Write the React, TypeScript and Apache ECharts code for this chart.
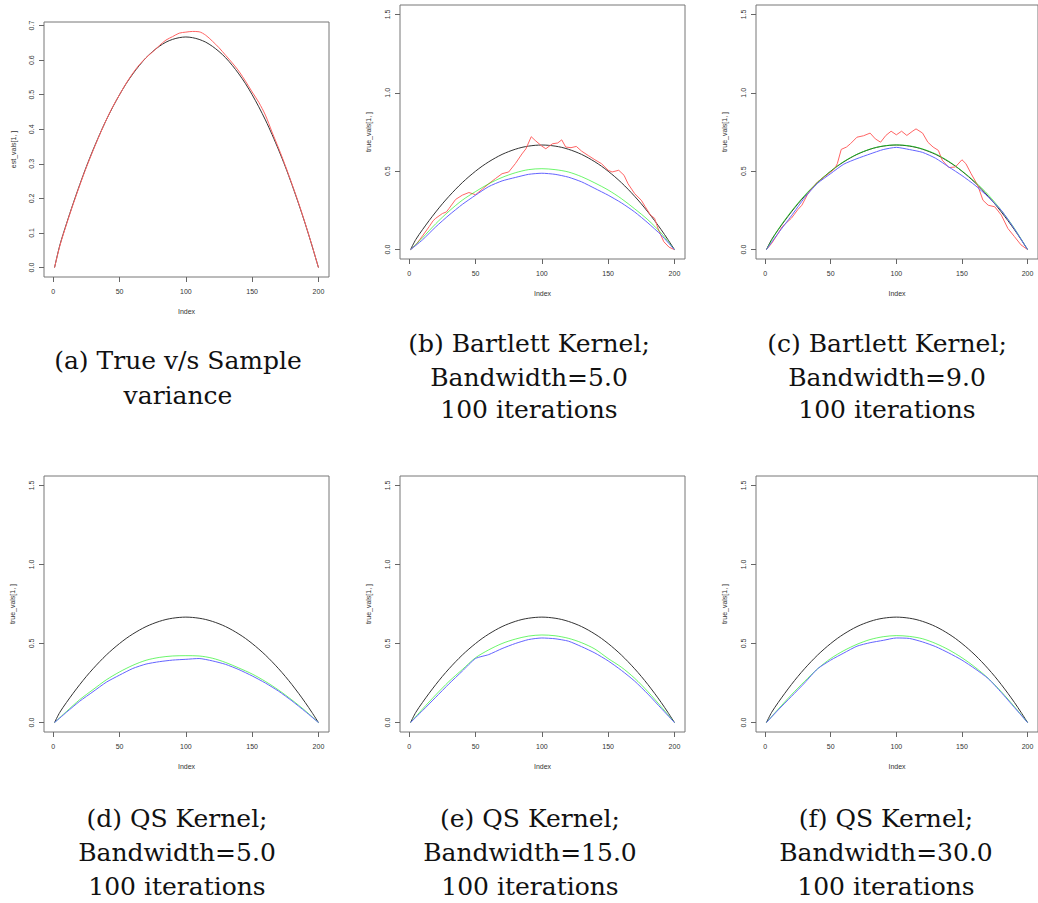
import React, { useEffect, useRef } from "react";
import * as echarts from "echarts";

// ---------- data ----------
const X5 = [1, 5, 10, 15, 20, 25, 30, 35, 40, 45, 50, 55, 60, 65, 70, 75, 80, 85, 90, 95, 100,
  105, 110, 115, 120, 125, 130, 135, 140, 145, 150, 155, 160, 165, 170, 175, 180, 185, 190, 195, 200];
const X10 = [1, 10, 20, 30, 40, 50, 60, 70, 80, 90, 100, 110, 120, 130, 140, 150, 160, 170, 180, 190, 200];

const TRUE_VAR = [0.0, 0.065, 0.127, 0.185, 0.24, 0.292, 0.34, 0.385, 0.427, 0.465, 0.5, 0.532, 0.56, 0.585,
  0.607, 0.625, 0.64, 0.652, 0.66, 0.665, 0.667, 0.665, 0.66, 0.652, 0.64, 0.625, 0.607, 0.585, 0.56, 0.532,
  0.5, 0.465, 0.427, 0.385, 0.34, 0.292, 0.24, 0.185, 0.127, 0.065, 0.0];

const A_SAMPLE = [0.0, 0.063, 0.125, 0.183, 0.238, 0.29, 0.338, 0.384, 0.427, 0.466, 0.5, 0.533, 0.562, 0.587,
  0.607, 0.624, 0.642, 0.658, 0.668, 0.678, 0.681, 0.683, 0.682, 0.672, 0.655, 0.636, 0.614, 0.592, 0.568,
  0.539, 0.508, 0.478, 0.441, 0.392, 0.345, 0.295, 0.242, 0.187, 0.128, 0.066, 0.0];

const B_RED_X = [1, 5, 10, 15, 18, 20, 25, 28, 30, 35, 40, 45, 50, 55, 60, 65, 70, 75, 80, 85, 88, 92, 95, 100,
  103, 108, 112, 115, 118, 122, 126, 130, 135, 140, 145, 150, 153, 158, 162, 165, 170, 175, 178, 182, 185,
  188, 192, 196, 200];
const B_RED_Y = [0, 0.03, 0.087, 0.146, 0.184, 0.2, 0.23, 0.24, 0.262, 0.32, 0.347, 0.364, 0.35, 0.385, 0.42,
  0.453, 0.484, 0.495, 0.548, 0.61, 0.643, 0.72, 0.696, 0.66, 0.643, 0.675, 0.68, 0.7, 0.654, 0.65, 0.658,
  0.628, 0.6, 0.573, 0.548, 0.506, 0.495, 0.506, 0.474, 0.42, 0.357, 0.315, 0.273, 0.22, 0.2, 0.125, 0.05,
  0.015, 0];
const B_GREEN = [0, 0.075, 0.165, 0.245, 0.315, 0.37, 0.42, 0.46, 0.49, 0.51, 0.516, 0.51, 0.495, 0.465, 0.425,
  0.38, 0.325, 0.26, 0.19, 0.105, 0];
const B_BLUE = [0, 0.062, 0.145, 0.22, 0.288, 0.347, 0.402, 0.438, 0.46, 0.48, 0.487, 0.48, 0.462, 0.432, 0.39,
  0.347, 0.298, 0.24, 0.17, 0.093, 0];

const C_RED_X = [1, 5, 10, 13, 20, 25, 28, 32, 35, 40, 45, 50, 53, 55, 58, 62, 65, 70, 75, 80, 84, 88, 92, 96,
  100, 104, 108, 112, 115, 120, 124, 128, 132, 135, 140, 145, 150, 153, 157, 162, 166, 170, 175, 180, 185,
  190, 195, 200];
const C_RED_Y = [0, 0.04, 0.104, 0.146, 0.2, 0.256, 0.283, 0.347, 0.385, 0.432, 0.463, 0.495, 0.516, 0.548,
  0.639, 0.654, 0.675, 0.717, 0.726, 0.743, 0.706, 0.685, 0.728, 0.755, 0.732, 0.755, 0.728, 0.753, 0.77,
  0.743, 0.685, 0.654, 0.633, 0.57, 0.523, 0.527, 0.573, 0.548, 0.484, 0.41, 0.315, 0.283, 0.273, 0.22, 0.135,
  0.083, 0.03, 0];
const C_GREEN = [0, 0.13, 0.245, 0.345, 0.43, 0.5, 0.562, 0.608, 0.641, 0.661, 0.668, 0.662, 0.642, 0.61, 0.563,
  0.502, 0.432, 0.35, 0.25, 0.135, 0];
const C_BLUE = [0, 0.105, 0.215, 0.33, 0.423, 0.485, 0.545, 0.58, 0.61, 0.638, 0.652, 0.638, 0.62, 0.582, 0.527,
  0.472, 0.41, 0.336, 0.25, 0.132, 0];

const D_GREEN = [0, 0.07, 0.145, 0.208, 0.27, 0.32, 0.362, 0.394, 0.412, 0.421, 0.423, 0.421, 0.407, 0.38, 0.345,
  0.307, 0.26, 0.205, 0.143, 0.075, 0];
const D_BLUE = [0, 0.065, 0.135, 0.195, 0.255, 0.3, 0.342, 0.37, 0.385, 0.395, 0.4, 0.405, 0.39, 0.368, 0.335,
  0.295, 0.25, 0.198, 0.137, 0.07, 0];

const E_GREEN = [0, 0.085, 0.175, 0.26, 0.335, 0.41, 0.46, 0.5, 0.528, 0.547, 0.554, 0.549, 0.533, 0.505, 0.465,
  0.405, 0.35, 0.28, 0.195, 0.1, 0];
const E_BLUE = [0, 0.075, 0.16, 0.245, 0.325, 0.405, 0.43, 0.468, 0.5, 0.525, 0.535, 0.53, 0.515, 0.48, 0.44,
  0.39, 0.33, 0.262, 0.18, 0.09, 0];

const F_GREEN = [0, 0.085, 0.175, 0.26, 0.34, 0.405, 0.455, 0.495, 0.525, 0.543, 0.55, 0.545, 0.53, 0.5, 0.46,
  0.41, 0.35, 0.28, 0.195, 0.1, 0];
const F_BLUE = [0, 0.08, 0.165, 0.25, 0.34, 0.395, 0.44, 0.483, 0.505, 0.52, 0.535, 0.532, 0.51, 0.48, 0.44,
  0.395, 0.34, 0.278, 0.19, 0.095, 0];

const X_TICKS = [0, 50, 100, 150, 200];
const Y_TICKS_A = [0, 0.1, 0.2, 0.3, 0.4, 0.5, 0.6, 0.7];
const Y_TICKS = [0, 0.5, 1.0, 1.5];

const CAPTIONS = [
  ["(a) True v/s Sample", "variance"],
  ["(b) Bartlett Kernel;", "Bandwidth=5.0", "100 iterations"],
  ["(c) Bartlett Kernel;", "Bandwidth=9.0", "100 iterations"],
  ["(d) QS Kernel;", "Bandwidth=5.0", "100 iterations"],
  ["(e) QS Kernel;", "Bandwidth=15.0", "100 iterations"],
  ["(f) QS Kernel;", "Bandwidth=30.0", "100 iterations"],
];

// ---------- styling / layout ----------
const COL_BLACK = "#333333";
const COL_RED = "#ff6464";
const COL_GREEN = "rgba(0,240,0,0.58)";
const COL_BLUE = "#6464ff";

const GRIDS = [
  { left: 44, top: 22, width: 285, height: 255 },
  { left: 400, top: 5, width: 285, height: 254 },
  { left: 756, top: 5, width: 285, height: 254 },
  { left: 44, top: 476, width: 285, height: 256 },
  { left: 400, top: 476, width: 285, height: 256 },
  { left: 756, top: 476, width: 285, height: 256 },
];
const CAPTION_POS = [
  { x: 178, ys: [360, 395] },
  { x: 529, ys: [343, 377, 409] },
  { x: 887, ys: [343, 377, 409] },
  { x: 177, ys: [818, 852, 886] },
  { x: 530, ys: [818, 852, 886] },
  { x: 886, ys: [818, 852, 886] },
];

const zip = (xs: number[], ys: number[]) => xs.map((x, i) => [x, ys[i]]);

export default function App() {
  const ref = useRef<HTMLDivElement>(null);
  useEffect(() => {
    if (!ref.current) return;
    const chart = echarts.init(ref.current, undefined, { renderer: "svg" });
    const tickFont = { fontSize: 7, color: "#333", fontFamily: "Liberation Sans, Arial, sans-serif" };

    const xAxis = GRIDS.map((_, i) => ({
      type: "value",
      gridIndex: i,
      min: -6.96,
      max: 207.96,
      axisLine: { show: false, onZero: false },
      axisTick: { show: true, customValues: X_TICKS, length: 5, lineStyle: { color: "#666" } },
      axisLabel: { show: true, customValues: X_TICKS, margin: 11, ...tickFont },
      splitLine: { show: false },
      name: "Index",
      nameLocation: "middle",
      nameGap: 31,
      nameTextStyle: tickFont,
    }));
    const yAxis = GRIDS.map((_, i) => {
      const isA = i === 0;
      const ticks = isA ? Y_TICKS_A : Y_TICKS;
      return {
        type: "value",
        gridIndex: i,
        min: isA ? -0.0273 : -0.06,
        max: isA ? 0.7103 : 1.56,
        axisLine: { show: false, onZero: false },
        axisTick: { show: true, customValues: ticks, length: 5, lineStyle: { color: "#666" } },
        axisLabel: {
          show: true,
          customValues: ticks,
          rotate: 90,
          margin: 9,
          formatter: (v: number) => v.toFixed(1),
          ...tickFont,
        },
        splitLine: { show: false },
        name: isA ? "est_vals[1, ]" : "true_vals[1, ]",
        nameLocation: "middle",
        nameRotate: 90,
        nameGap: isA ? 27 : 28,
        nameTextStyle: tickFont,
      };
    });

    const line = (i: number, data: number[][], color: string, smooth: boolean | number = false) => ({
      type: "line",
      xAxisIndex: i,
      yAxisIndex: i,
      data,
      showSymbol: false,
      symbol: "none",
      smooth,
      silent: true,
      lineStyle: { color, width: 1 },
    });

    const series = [
      line(0, zip(X5, TRUE_VAR), COL_BLACK, 0.3),
      line(0, zip(X5, A_SAMPLE), COL_RED, 0.3),
      line(1, zip(X5, TRUE_VAR), COL_BLACK, 0.3),
      line(1, zip(B_RED_X, B_RED_Y), COL_RED),
      line(1, zip(X10, B_GREEN), COL_GREEN, 0.3),
      line(1, zip(X10, B_BLUE), COL_BLUE, 0.2),
      line(2, zip(X5, TRUE_VAR), COL_BLACK, 0.3),
      line(2, zip(C_RED_X, C_RED_Y), COL_RED),
      line(2, zip(X10, C_GREEN), COL_GREEN, 0.3),
      line(2, zip(X10, C_BLUE), COL_BLUE, 0.2),
      line(3, zip(X5, TRUE_VAR), COL_BLACK, 0.3),
      line(3, zip(X10, D_GREEN), COL_GREEN, 0.3),
      line(3, zip(X10, D_BLUE), COL_BLUE, 0.2),
      line(4, zip(X5, TRUE_VAR), COL_BLACK, 0.3),
      line(4, zip(X10, E_GREEN), COL_GREEN, 0.3),
      line(4, zip(X10, E_BLUE), COL_BLUE, 0.2),
      line(5, zip(X5, TRUE_VAR), COL_BLACK, 0.3),
      line(5, zip(X10, F_GREEN), COL_GREEN, 0.3),
      line(5, zip(X10, F_BLUE), COL_BLUE, 0.2),
    ];

    const graphic: any[] = [];
    CAPTIONS.forEach((lines, i) => {
      lines.forEach((t, j) => {
        graphic.push({
          type: "text",
          x: CAPTION_POS[i].x,
          y: CAPTION_POS[i].ys[j],
          silent: true,
          style: {
            text: t,
            fontSize: 25,
            fontFamily: "DejaVu Serif",
            fill: "#111",
            textAlign: "center",
            textVerticalAlign: "middle",
          },
        });
      });
    });

    chart.setOption({
      animation: false,
      backgroundColor: "#ffffff",
      grid: GRIDS.map((g) => ({
        ...g,
        show: true,
        borderColor: "#777",
        borderWidth: 1,
        backgroundColor: "transparent",
        containLabel: false,
      })),
      xAxis,
      yAxis,
      series,
      graphic,
    });
    return () => chart.dispose();
  }, []);

  return (
    <div
      ref={ref}
      style={{ position: "absolute", left: 0, top: 0, width: 1038, height: 903, background: "#fff" }}
    />
  );
}
